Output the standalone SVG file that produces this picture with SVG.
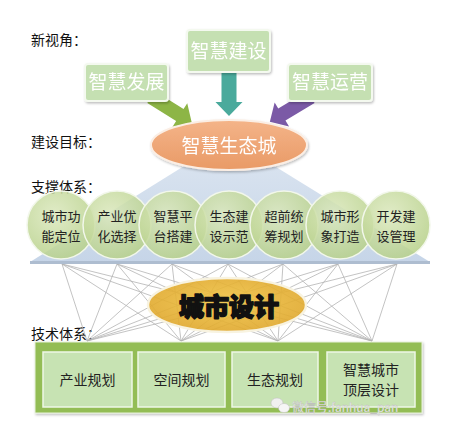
<svg xmlns="http://www.w3.org/2000/svg" width="453" height="429" viewBox="0 0 453 429">
<defs>
<style>
.lbl{font-family:"Noto Sans CJK SC","Noto Sans",sans-serif;font-size:14px;fill:#111;}
.top{fill:#c5e0b2;stroke:#f4f9ef;stroke-width:2;}
.toptx{font-family:"Noto Sans CJK SC",sans-serif;font-size:19px;fill:#fff;text-anchor:middle;}
.circ{fill:url(#cg);stroke:#f2f7ea;stroke-width:1.5;}
.ctx{font-family:"Noto Sans CJK SC",sans-serif;font-size:13px;fill:#222;text-anchor:middle;}
.net line{stroke:#b4b4b4;stroke-width:0.8;}
.inner{fill:#c7e3b3;stroke:#eef7e6;stroke-width:1.5;}
.btx{font-family:"Noto Sans CJK SC",sans-serif;font-size:14px;fill:#222;text-anchor:middle;}
</style>
<radialGradient id="cg" cx="0.4" cy="0.35" r="0.7">
<stop offset="0" stop-color="#dbe8bd" stop-opacity="0.85"/>
<stop offset="1" stop-color="#b5cf86" stop-opacity="0.85"/>
</radialGradient>
<linearGradient id="tri" x1="0" y1="0" x2="0" y2="1">
<stop offset="0" stop-color="#dde6f1"/>
<stop offset="1" stop-color="#c6d5e8"/>
</linearGradient>
<radialGradient id="gold" cx="0.5" cy="0.45" r="0.6">
<stop offset="0" stop-color="#f1c545"/>
<stop offset="1" stop-color="#dea52a"/>
</radialGradient>
<linearGradient id="peach" x1="0" y1="0" x2="0" y2="1">
<stop offset="0" stop-color="#f4b489"/>
<stop offset="1" stop-color="#e99a66"/>
</linearGradient>
<filter id="sh" x="-10%" y="-10%" width="130%" height="140%">
<feDropShadow dx="1" dy="1.5" stdDeviation="1.2" flood-color="#000" flood-opacity="0.25"/>
</filter>
</defs>
<rect width="453" height="429" fill="#fff"/>

<g id="labels">
<text class="lbl" x="31" y="45">新视角：</text>
<text class="lbl" x="31" y="147">建设目标：</text>
<text class="lbl" x="31" y="192">支撑体系：</text>
<text class="lbl" x="31" y="339">技术体系：</text>
</g>

<g id="connectors">
<path transform="translate(151,97) rotate(-58)" d="M-7,0 L7,0 L7,34 L14,34 L0,48 L-14,34 L-7,34 Z" fill="#8db546"/>
<path transform="translate(229,72)" d="M-7.5,0 L7.5,0 L7.5,30 L13.5,30 L0,44 L-13.5,30 L-7.5,30 Z" fill="#4aaa9c"/>
<path transform="translate(311,97) rotate(59)" d="M-7,0 L7,0 L7,34 L14,34 L0,48 L-14,34 L-7,34 Z" fill="#7b5aa6"/>
<g class="net">
<line x1="62" y1="264" x2="87" y2="341"/><line x1="62" y1="264" x2="181" y2="341"/><line x1="62" y1="264" x2="278" y2="341"/><line x1="62" y1="264" x2="372" y2="341"/>
<line x1="117" y1="264" x2="87" y2="341"/><line x1="117" y1="264" x2="181" y2="341"/><line x1="117" y1="264" x2="278" y2="341"/><line x1="117" y1="264" x2="372" y2="341"/>
<line x1="172" y1="264" x2="87" y2="341"/><line x1="172" y1="264" x2="181" y2="341"/><line x1="172" y1="264" x2="278" y2="341"/><line x1="172" y1="264" x2="372" y2="341"/>
<line x1="228" y1="264" x2="87" y2="341"/><line x1="228" y1="264" x2="181" y2="341"/><line x1="228" y1="264" x2="278" y2="341"/><line x1="228" y1="264" x2="372" y2="341"/>
<line x1="283" y1="264" x2="87" y2="341"/><line x1="283" y1="264" x2="181" y2="341"/><line x1="283" y1="264" x2="278" y2="341"/><line x1="283" y1="264" x2="372" y2="341"/>
<line x1="338" y1="264" x2="87" y2="341"/><line x1="338" y1="264" x2="181" y2="341"/><line x1="338" y1="264" x2="278" y2="341"/><line x1="338" y1="264" x2="372" y2="341"/>
<line x1="397" y1="264" x2="87" y2="341"/><line x1="397" y1="264" x2="181" y2="341"/><line x1="397" y1="264" x2="278" y2="341"/><line x1="397" y1="264" x2="372" y2="341"/>
</g>
</g>

<g id="n-jianshe" filter="url(#sh)">
<rect class="top" x="187" y="30" width="83" height="42" rx="3"/>
<text class="toptx" x="228.5" y="58">智慧建设</text>
</g>
<g id="n-fazhan" filter="url(#sh)">
<rect class="top" x="85" y="64" width="83" height="37" rx="3"/>
<text class="toptx" x="126.5" y="89">智慧发展</text>
</g>
<g id="n-yunying" filter="url(#sh)">
<rect class="top" x="288" y="64" width="84" height="37" rx="3"/>
<text class="toptx" x="330" y="89">智慧运营</text>
</g>

<g id="n-triangle">
<polygon points="229,138 30,262 430,262" fill="url(#tri)"/>
<rect x="30" y="261" width="400" height="3" fill="#aebdd0"/>
</g>

<g id="n-shengtaicheng" filter="url(#sh)">
<ellipse cx="229" cy="145" rx="78" ry="25" fill="url(#peach)" stroke="#fbeee4" stroke-width="2"/>
<text x="229" y="153" font-family="Noto Sans CJK SC,sans-serif" font-size="19" fill="#fff" text-anchor="middle">智慧生态城</text>
</g>

<g id="n-c1"><circle class="circ" cx="61" cy="225" r="34"/><text class="ctx" x="61" y="221">城市功</text><text class="ctx" x="61" y="241">能定位</text></g>
<g id="n-c2"><circle class="circ" cx="117" cy="225" r="34"/><text class="ctx" x="117" y="221">产业优</text><text class="ctx" x="117" y="241">化选择</text></g>
<g id="n-c3"><circle class="circ" cx="173" cy="225" r="34"/><text class="ctx" x="173" y="221">智慧平</text><text class="ctx" x="173" y="241">台搭建</text></g>
<g id="n-c4"><circle class="circ" cx="229" cy="225" r="34"/><text class="ctx" x="229" y="221">生态建</text><text class="ctx" x="229" y="241">设示范</text></g>
<g id="n-c5"><circle class="circ" cx="284" cy="225" r="34"/><text class="ctx" x="284" y="221">超前统</text><text class="ctx" x="284" y="241">筹规划</text></g>
<g id="n-c6"><circle class="circ" cx="340" cy="225" r="34"/><text class="ctx" x="340" y="221">城市形</text><text class="ctx" x="340" y="241">象打造</text></g>
<g id="n-c7"><circle class="circ" cx="396" cy="225" r="34"/><text class="ctx" x="396" y="221">开发建</text><text class="ctx" x="396" y="241">设管理</text></g>

<g id="n-chengshisheji">
<ellipse cx="227" cy="305" rx="79" ry="27" fill="url(#gold)" fill-opacity="0.9" stroke="#f8f3e0" stroke-width="2.5"/>
<text x="229" y="316" font-family="Noto Sans CJK SC,sans-serif" font-size="25" font-weight="900" fill="#111" stroke="#111" stroke-width="1.6" stroke-linejoin="round" text-anchor="middle">城市设计</text>
</g>

<g id="n-jishu">
<rect x="35" y="342" width="387" height="71" fill="#93bd55" stroke="#e8f1dc" stroke-width="1" filter="url(#sh)"/>
</g>
<g id="n-b1"><rect class="inner" x="43" y="352" width="89" height="55"/><text class="btx" x="87.5" y="385">产业规划</text></g>
<g id="n-b2"><rect class="inner" x="138" y="352" width="87" height="55"/><text class="btx" x="181.5" y="385">空间规划</text></g>
<g id="n-b3"><rect class="inner" x="232" y="352" width="86" height="55"/><text class="btx" x="275" y="385">生态规划</text></g>
<g id="n-b4"><rect class="inner" x="327" y="352" width="88" height="55"/><text class="btx" x="371" y="375">智慧城市</text><text class="btx" x="371" y="395">顶层设计</text></g>

<g id="watermark">
<ellipse cx="277" cy="403" rx="6" ry="5" fill="#f0f0f0" stroke="#bdbdbd" stroke-width="0.5"/>
<ellipse cx="284" cy="408" rx="5.5" ry="4.5" fill="#f6f6f6" stroke="#bdbdbd" stroke-width="0.5"/>
<text x="292" y="412" font-family="Noto Sans CJK SC,sans-serif" font-size="12" fill="#f2f2f2" stroke="#b8b8b8" stroke-width="0.3">微信号:fanhua_pan</text>
</g>
</svg>
